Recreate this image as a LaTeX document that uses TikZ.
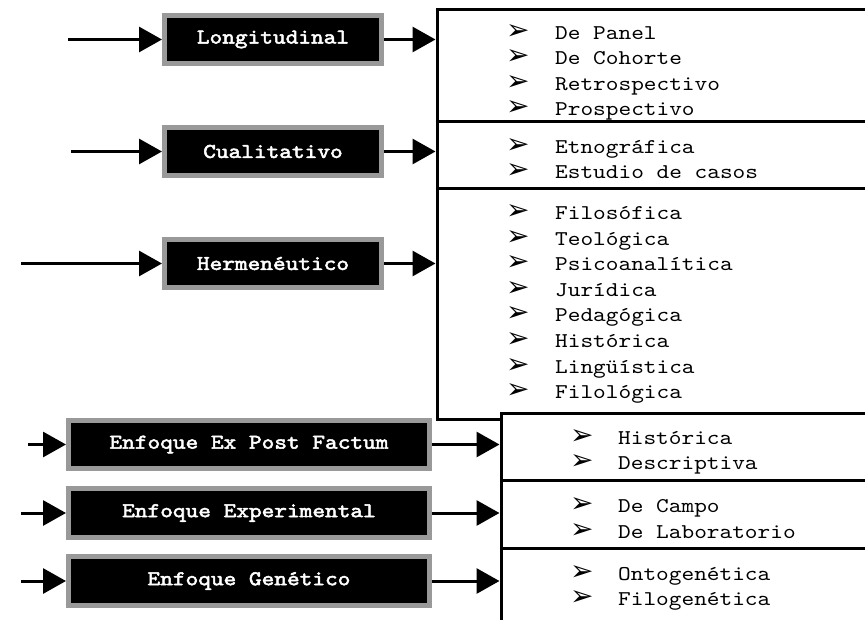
\documentclass[tikz,border=0pt]{standalone}
\usepackage{fontspec}
\newfontfamily\cour{lmmono10-regular.otf}[FakeStretch=1.15]
\newfontfamily\courbf{lmmono10-regular.otf}[FakeStretch=1.15, FakeBold=2.5]
\newfontfamily\symfont{DejaVu Sans}
\usetikzlibrary{arrows.meta}

\begin{document}
\begin{tikzpicture}[x=1pt,y=-1pt,
  tag/.style={fill=black, draw=black!40, line width=5pt, text=white,
    font=\courbf\fontsize{21}{21}\selectfont, inner sep=0pt,
    minimum height=48.5pt},
  tagshort/.style={tag, minimum width=217pt},
  taglong/.style={tag, minimum width=361pt},
  feed/.style={line width=3pt, -{Triangle[length=23pt,width=25pt]}},
  frame/.style={line width=3pt},
  entry/.style={anchor=base west, inner sep=0pt,
    font=\cour\fontsize{21}{21}\selectfont},
  bul/.style={anchor=base west, inner sep=0pt,
    font=\symfont\fontsize{28}{28}\selectfont}
]
\useasboundingbox (0,0) rectangle (865,619);

% category boxes
\node[tagshort] (n1) at (273,39.5) {Longitudinal};
\node[tagshort] (n2) at (273,151.5) {Cualitativo};
\node[tagshort] (n3) at (273,263.5) {Hermenéutico};
\node[taglong] (n4) at (249,444.5) {Enfoque Ex Post Factum};
\node[taglong] (n5) at (249,513) {Enfoque Experimental};
\node[taglong] (n6) at (249,581) {Enfoque Genético};

% list frames (open to the right)
\draw[frame] (866,9) -| (437,419) -- (501,419);
\draw[frame] (437,121) -- (866,121);
\draw[frame] (437,188) -- (866,188);
\draw[frame] (866,413) -| (501,625);
\draw[frame] (501,480) -- (866,480);
\draw[frame] (501,548) -- (866,548);

% incoming arrow starts
\coordinate (s1) at (68,39.5);
\coordinate (s2) at (71,151.5);
\coordinate (s3) at (21,263.5);
\coordinate (s4) at (28,444.5);
\coordinate (s5) at (21,513);
\coordinate (s6) at (21,581);
% arrow targets on the frames
\coordinate (t1) at (435.5,39.5);
\coordinate (t2) at (435.5,151.5);
\coordinate (t3) at (435.5,263.5);
\coordinate (t4) at (499.5,444.5);
\coordinate (t5) at (499.5,513);
\coordinate (t6) at (499.5,581);

\foreach \i in {1,...,6}{
  \draw[feed] (s\i) -- (n\i);
  \draw[feed] (n\i) -- (t\i);
}

% list entries
\foreach \y/\t in {39/De Panel, 64.6/De Cohorte, 90.2/Retrospectivo, 115.8/Prospectivo,
                   153/Etnográfica, 178.6/Estudio de casos,
                   219.5/Filosófica, 245.1/Teológica, 270.7/Psicoanalítica, 296.3/Jurídica,
                   321.9/Pedagógica, 347.5/Histórica, 373.1/Lingüística, 398.7/Filológica}{
  \node[bul] at (506,\y) {➢};
  \node[entry] at (555,\y) {\t};
}
\foreach \y/\t in {444/Histórica, 469.6/Descriptiva,
                   512.5/De Campo, 538.1/De Laboratorio,
                   580/Ontogenética, 605.6/Filogenética}{
  \node[bul] at (570,\y) {➢};
  \node[entry] at (618,\y) {\t};
}
\end{tikzpicture}
\end{document}
